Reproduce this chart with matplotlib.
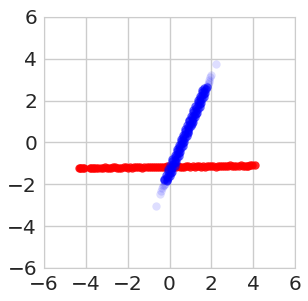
import matplotlib
matplotlib.use("Agg")
import matplotlib.pyplot as plt
import seaborn as sns

# red points (nearly flat band)
red_x = [-4.32, -4.26, -4.21, -4.15, -4.09, -3.82, -3.74, -3.66,
         -3.6, -3.5, -3.4, -3.3, -3.2, -3.1, -3.0, -2.9, -2.8, -2.7,
         -2.6, -2.5, -2.4, -2.3, -2.2, -2.1, -2.0, -1.9, -1.8, -1.7,
         -1.6, -1.5, -1.4, -1.3, -1.2, -1.1, -1.0, -0.9, -0.8, -0.7,
         -0.6, -0.5, -0.4, -0.3, -0.2, -0.1, 0.0, 0.1, 0.2, 0.3,
         0.4, 0.5, 0.6, 0.7, 0.8, 0.9, 1.0, 1.1, 1.2, 1.3,
         1.4, 1.5, 1.6, 1.7, 1.8, 1.9, 2.0, 2.1, 2.2, 2.3,
         2.4, 2.5, 2.6, 2.7, 2.8, 2.9, 3.0, 3.1, 3.2, 3.3,
         3.4, 3.5, 3.6, 3.68, 3.76, 3.84, 3.93, 4.08]
red_y = [-1.24, -1.24, -1.24, -1.24, -1.23, -1.23, -1.23, -1.23,
         -1.21, -1.24, -1.22, -1.24, -1.21, -1.20, -1.23, -1.22, -1.24, -1.20,
         -1.19, -1.22, -1.21, -1.23, -1.20, -1.18, -1.21, -1.20, -1.22, -1.19,
         -1.18, -1.20, -1.19, -1.21, -1.18, -1.17, -1.20, -1.18, -1.20, -1.17,
         -1.16, -1.19, -1.18, -1.20, -1.16, -1.15, -1.18, -1.17, -1.19, -1.16,
         -1.14, -1.17, -1.16, -1.18, -1.15, -1.14, -1.16, -1.15, -1.17, -1.14,
         -1.13, -1.16, -1.14, -1.16, -1.13, -1.12, -1.15, -1.14, -1.16, -1.12,
         -1.11, -1.14, -1.13, -1.15, -1.12, -1.10, -1.13, -1.12, -1.14, -1.11,
         -1.10, -1.12, -1.11, -1.11, -1.11, -1.10, -1.10, -1.09]

# blue points, dense core of the steep band
blue_x = [-0.10, -0.26, -0.14, -0.26, -0.06, -0.14, 0.04, -0.16, -0.04, 0.06,
          0.10, -0.06, 0.06, -0.06, 0.14, 0.06, 0.24, 0.04, 0.16, 0.26,
          0.30, 0.14, 0.26, 0.14, 0.34, 0.26, 0.44, 0.24, 0.36, 0.46,
          0.50, 0.34, 0.46, 0.34, 0.54, 0.46, 0.64, 0.44, 0.56, 0.66,
          0.70, 0.54, 0.66, 0.54, 0.74, 0.66, 0.84, 0.64, 0.76, 0.86,
          0.90, 0.74, 0.86, 0.74, 0.94, 0.86, 1.04, 0.84, 0.96, 1.06,
          1.10, 0.94, 1.06, 0.94, 1.14, 1.06, 1.24, 1.04, 1.16, 1.26,
          1.30, 1.14, 1.26, 1.14, 1.34, 1.26, 1.44, 1.24, 1.36, 1.46,
          1.50, 1.34, 1.46, 1.34, 1.54, 1.46, 1.64, 1.44, 1.56, 1.66,
          1.70, 1.54, 1.66, 1.54, 1.74, 1.66, 1.80]
blue_y = [-1.87, -1.82, -1.78, -1.73, -1.68, -1.64, -1.59, -1.54, -1.49, -1.45,
          -1.40, -1.35, -1.31, -1.26, -1.21, -1.17, -1.12, -1.07, -1.02, -0.98,
          -0.93, -0.88, -0.84, -0.79, -0.74, -0.70, -0.65, -0.60, -0.55, -0.51,
          -0.46, -0.41, -0.37, -0.32, -0.27, -0.23, -0.18, -0.13, -0.08, -0.04,
          0.01, 0.06, 0.10, 0.15, 0.20, 0.25, 0.29, 0.34, 0.39, 0.43,
          0.48, 0.53, 0.57, 0.62, 0.67, 0.72, 0.76, 0.81, 0.86, 0.90,
          0.95, 1.00, 1.04, 1.09, 1.14, 1.19, 1.23, 1.28, 1.33, 1.37,
          1.42, 1.47, 1.51, 1.56, 1.61, 1.66, 1.70, 1.75, 1.80, 1.84,
          1.89, 1.94, 1.98, 2.03, 2.08, 2.13, 2.17, 2.22, 2.27, 2.31,
          2.36, 2.41, 2.45, 2.50, 2.55, 2.60, 2.64]

# sparse blue points at both ends
blue_tail_x = [-0.65, -0.45, -0.40, -0.35, -0.30, -0.27, -0.24,
               2.20, 1.98, 1.95, 1.90, 1.87, 1.82, 1.78, 1.75]
blue_tail_y = [-3.05, -2.45, -2.33, -2.20, -2.10, -2.02, -1.97,
               3.75, 3.22, 3.12, 3.00, 2.90, 2.78, 2.70, 2.62]

ticks = [-6, -4, -2, 0, 2, 4, 6]

sns.set_style("whitegrid")
plt.rcParams['font.family'] = ['DejaVu Sans']

fig = plt.figure(figsize=(3.08, 3.01), dpi=100)
ax = fig.add_axes([0.143, 0.110, 0.815, 0.834])

ax.scatter(red_x, red_y, s=36, color='red', alpha=0.85, linewidths=0)
ax.scatter(blue_tail_x, blue_tail_y, s=36, color='blue', alpha=0.13, linewidths=0)
ax.scatter(blue_x, blue_y, s=36, color='blue', alpha=0.6, linewidths=0)

ax.set_xlim(-6, 6)
ax.set_ylim(-6, 6)
ax.set_xticks(ticks)
ax.set_yticks(ticks)
ax.tick_params(labelsize=14.5, colors='#262626', length=0, pad=5)
ax.grid(color='#cccccc', linewidth=1)
for sp in ax.spines.values():
    sp.set_color('#cccccc')

fig.savefig("out.png", dpi=100)
